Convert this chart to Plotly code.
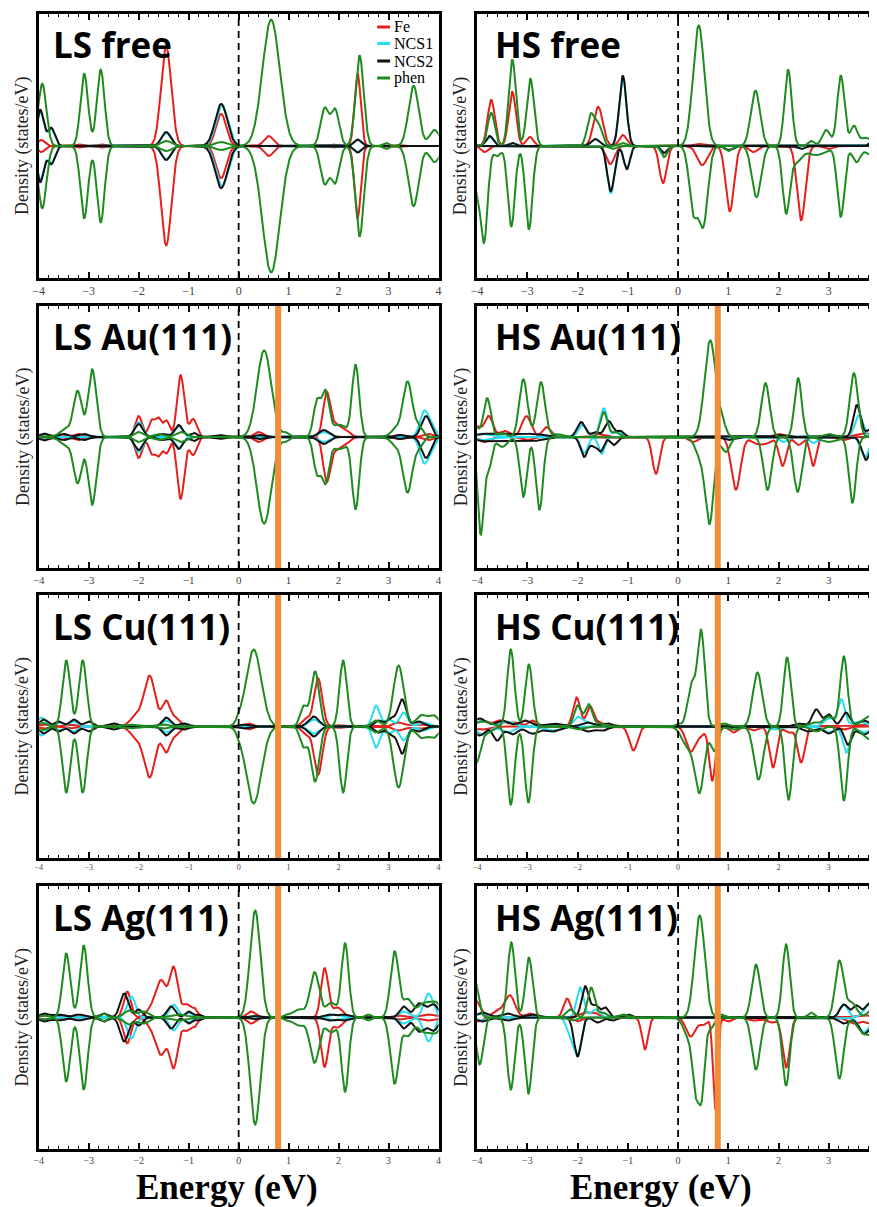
import numpy as np
import plotly.graph_objects as go

# ---------------- data: DOS peaks ----------------
# each entry: (energy eV, height states/eV, half-width eV); LS panels are spin-symmetric
LS_FREE_FE = [(-3.95, 0.6, 0.07), (-3.2, 0.15, 0.06), (-2.75, 0.15, 0.06), (-1.45, 9.9, 0.1),
              (-0.35, 3.2, 0.1), (0.6, 1.0, 0.09), (1.9, 0.15, 0.06), (2.38, 7.2, 0.06), (3.2, 0.1, 0.06)]
LS_FREE_NCS1 = [(-3.97, 3.4, 0.07), (-3.75, 1.7, 0.07), (-1.45, 1.3, 0.09), (-0.33, 4.0, 0.12), (2.38, 0.6, 0.07)]
LS_FREE_NCS2 = [(-3.97, 3.6, 0.07), (-3.75, 1.8, 0.07), (-1.45, 1.4, 0.09), (-0.35, 4.2, 0.12), (2.38, 0.65, 0.07)]
LS_FREE_PHEN = [(-3.93, 6.2, 0.08), (-3.09, 7.2, 0.075), (-2.76, 7.6, 0.075), (-1.45, 0.5, 0.1),
                (-0.35, 0.4, 0.12), (0.65, 12.6, 0.17), (1.72, 3.7, 0.08), (1.93, 3.6, 0.08),
                (2.42, 9.0, 0.08), (2.95, 0.3, 0.06), (3.5, 6.0, 0.1), (3.92, 1.6, 0.1)]

HS_FREE_FE_UP = [(-3.72, 4.6, 0.07), (-3.3, 5.4, 0.07), (-2.95, 0.9, 0.07), (-1.59, 3.9, 0.09),
                 (-1.1, 1.1, 0.07), (0.4, 0.2, 0.1)]
HS_FREE_FE_DN = [(-3.85, -0.6, 0.07), (-1.35, -1.8, 0.08), (-0.3, -3.7, 0.07), (0.48, -1.9, 0.1),
                 (1.03, -6.5, 0.08), (1.5, -0.6, 0.08), (2.45, -7.4, 0.08), (3.0, -0.3, 0.08)]
HS_FREE_NCS1_UP = [(-3.75, 0.9, 0.07), (-3.3, 0.3, 0.07), (-1.65, 0.7, 0.08), (-1.1, 6.8, 0.07), (4.0, 1.4, 0.1)]
HS_FREE_NCS1_DN = [(-1.34, -4.7, 0.07), (-1.02, -2.3, 0.06), (-0.28, -0.7, 0.06), (1.02, -0.4, 0.08)]
HS_FREE_NCS2_UP = [(-3.75, 1.0, 0.07), (-3.3, 0.3, 0.07), (-1.65, 0.7, 0.08), (-1.1, 7.0, 0.07), (4.0, 1.5, 0.1)]
HS_FREE_NCS2_DN = [(-1.34, -4.5, 0.07), (-1.02, -2.3, 0.06), (-0.28, -0.7, 0.06), (1.02, -0.4, 0.08),
                   (2.45, -0.3, 0.08)]
HS_FREE_PHEN_UP = [(-3.72, 3.3, 0.07), (-3.3, 8.6, 0.07), (-2.94, 6.7, 0.07), (-1.74, 3.1, 0.07),
                   (-1.58, 2.0, 0.07), (-1.1, 0.3, 0.07), (0.41, 12.0, 0.11), (1.54, 5.5, 0.09),
                   (2.19, 7.6, 0.07), (2.65, 0.5, 0.06), (2.95, 1.6, 0.08), (3.24, 7.0, 0.07),
                   (3.5, 2.0, 0.07), (3.72, 0.8, 0.08), (3.95, 1.0, 0.08)]
HS_FREE_PHEN_DN = [(-4.02, -3.5, 0.08), (-3.86, -9.1, 0.07), (-3.6, -1.0, 0.07), (-3.32, -8.0, 0.07),
                   (-2.97, -8.3, 0.07), (-1.3, -0.3, 0.07), (-0.28, -1.1, 0.06), (0.3, -6.2, 0.08),
                   (0.5, -7.8, 0.09), (1.0, -0.5, 0.07), (1.56, -5.1, 0.09), (2.15, -6.5, 0.07),
                   (2.35, -1.5, 0.1), (2.75, -0.9, 0.2), (3.24, -7.0, 0.07), (3.55, -1.6, 0.08),
                   (3.85, -1.0, 0.1)]

LS_AU_FE = [(-3.9, 0.3, 0.08), (-3.55, 0.3, 0.08), (-3.2, 0.3, 0.08), (-2.0, 2.1, 0.07),
            (-1.74, 1.6, 0.06), (-1.6, 1.8, 0.06), (-1.44, 1.6, 0.06), (-1.16, 6.2, 0.07),
            (-0.91, 1.8, 0.07), (0.4, 0.5, 0.08), (1.76, 4.3, 0.07), (1.95, 1.2, 0.1),
            (2.15, 0.6, 0.08), (3.2, 0.2, 0.08), (3.8, 0.3, 0.1)]
LS_AU_NCS1 = [(-3.9, 0.3, 0.1), (-2.0, 1.5, 0.08), (-1.2, 1.1, 0.08), (1.7, 0.5, 0.1),
              (3.7, 2.4, 0.08), (3.85, 1.2, 0.08)]
LS_AU_NCS2 = [(-3.9, 0.35, 0.1), (-3.5, 0.3, 0.1), (-3.1, 0.3, 0.1), (-2.0, 1.3, 0.08),
              (-1.55, 0.3, 0.1), (-1.2, 1.2, 0.08), (-0.9, 0.4, 0.07), (-0.4, 0.2, 0.1),
              (0.4, 0.2, 0.08), (1.7, 0.7, 0.1), (3.2, 0.2, 0.08), (3.75, 2.1, 0.09)]
LS_AU_PHEN = [(-3.45, 0.8, 0.12), (-3.22, 4.5, 0.08), (-2.93, 6.8, 0.08), (-2.0, 0.5, 0.08),
              (-1.6, 0.3, 0.1), (-1.15, 0.5, 0.1), (0.51, 8.7, 0.14), (0.95, 0.4, 0.06),
              (1.57, 3.6, 0.07), (1.74, 4.4, 0.07), (1.95, 0.9, 0.1), (2.1, 0.7, 0.1),
              (2.34, 7.2, 0.07), (3.15, 0.8, 0.1), (3.38, 5.5, 0.09), (3.6, 1.0, 0.08)]

HS_AU_FE_UP = [(-4.0, 1.0, 0.08), (-3.77, 2.1, 0.08), (-3.45, 0.6, 0.1), (-3.02, 2.1, 0.09),
               (-2.62, 1.0, 0.08), (-1.6, 0.3, 0.1), (2.0, 0.3, 0.1), (3.7, 0.4, 0.15)]
HS_AU_FE_DN = [(-3.85, -0.5, 0.1), (-3.0, -0.3, 0.1), (-0.44, -3.7, 0.07), (0.3, -0.5, 0.08),
               (1.15, -5.3, 0.09), (1.55, -0.6, 0.1), (1.75, -0.6, 0.1), (2.08, -2.9, 0.07),
               (2.4, -0.8, 0.08), (2.69, -2.9, 0.06), (3.3, -0.3, 0.1)]
HS_AU_NCS1_UP = [(-3.9, 0.3, 0.2), (-1.9, 1.2, 0.08), (-1.48, 2.9, 0.07), (-1.2, 0.6, 0.07), (3.6, 2.2, 0.08)]
HS_AU_NCS1_DN = [(-3.9, -0.3, 0.2), (-1.87, -1.6, 0.07), (-1.52, -1.7, 0.06), (2.1, -0.5, 0.08),
                 (2.7, -0.6, 0.08), (3.72, -2.0, 0.08)]
HS_AU_NCS2_UP = [(-3.9, 0.3, 0.2), (-3.4, 0.3, 0.2), (-2.9, 0.3, 0.2), (-1.93, 1.5, 0.08),
                 (-1.65, 0.5, 0.07), (-1.38, 1.6, 0.08), (-1.15, 0.6, 0.07), (2.0, 0.2, 0.1),
                 (3.0, 0.2, 0.1), (3.56, 3.2, 0.07), (3.85, 0.8, 0.1)]
HS_AU_NCS2_DN = [(-3.9, -0.4, 0.2), (-3.4, -0.4, 0.2), (-2.9, -0.4, 0.2), (-1.87, -2.0, 0.07),
                 (-1.68, -0.8, 0.06), (-1.54, -1.4, 0.06), (-1.28, -0.8, 0.07), (1.0, -0.3, 0.1),
                 (3.74, -2.3, 0.08)]
HS_AU_PHEN_UP = [(-4.05, 1.0, 0.08), (-3.8, 3.9, 0.07), (-3.5, 0.4, 0.08), (-3.08, 5.8, 0.08),
                 (-2.73, 5.5, 0.08), (-2.4, 0.3, 0.1), (-1.48, 2.5, 0.07), (-1.25, 0.5, 0.07),
                 (0.64, 9.7, 0.11), (0.88, 1.2, 0.07), (1.74, 5.4, 0.08), (2.39, 5.9, 0.07),
                 (3.0, 0.3, 0.1), (3.5, 6.4, 0.08)]
HS_AU_PHEN_DN = [(-3.93, -9.7, 0.06), (-3.77, -3.2, 0.06), (-3.5, -1.0, 0.1), (-3.08, -6.0, 0.07),
                 (-2.76, -7.3, 0.07), (0.45, -2.0, 0.1), (0.63, -8.3, 0.08), (0.95, -1.5, 0.08),
                 (1.78, -5.3, 0.08), (2.38, -5.5, 0.08), (3.0, -0.5, 0.15), (3.47, -6.6, 0.07)]

LS_CU_FE = [(-3.9, 0.2, 0.1), (-3.4, 0.2, 0.1), (-2.05, 1.0, 0.12), (-1.78, 5.0, 0.11),
            (-1.45, 2.5, 0.08), (-1.25, 0.8, 0.08), (0.2, 0.3, 0.08), (1.35, 0.8, 0.08),
            (1.59, 4.8, 0.08), (2.0, 0.15, 0.08), (3.2, 0.4, 0.1), (3.6, 0.2, 0.15)]
LS_CU_NCS1 = [(-3.95, 0.9, 0.08), (-3.6, 0.4, 0.08), (-3.3, 0.5, 0.08), (-1.45, 0.6, 0.08),
              (1.5, 0.7, 0.1), (2.75, 2.1, 0.07), (3.0, 0.7, 0.08), (3.3, 1.4, 0.08), (3.7, 0.4, 0.1)]
LS_CU_NCS2 = [(-3.9, 0.7, 0.08), (-3.6, 0.5, 0.08), (-3.3, 0.7, 0.08), (-3.0, 0.5, 0.08),
              (-2.5, 0.3, 0.1), (-1.45, 0.9, 0.08), (-1.1, 0.3, 0.1), (0.1, 0.2, 0.1),
              (1.5, 1.0, 0.1), (2.8, 0.6, 0.08), (3.05, 0.8, 0.08), (3.27, 2.7, 0.08), (3.6, 0.5, 0.1)]
LS_CU_PHEN = [(-3.95, 0.4, 0.1), (-3.45, 6.6, 0.075), (-3.12, 6.6, 0.075), (-2.2, 0.2, 0.15),
              (-1.5, 0.2, 0.1), (0.0, 0.3, 0.05), (0.3, 7.7, 0.15), (1.3, 2.0, 0.07),
              (1.53, 5.5, 0.08), (2.09, 6.6, 0.07), (2.75, 0.6, 0.08), (3.2, 6.1, 0.1),
              (3.65, 1.1, 0.1), (3.9, 1.1, 0.1)]

HS_CU_FE_UP = [(-3.9, 0.6, 0.12), (-3.55, 0.6, 0.1), (-3.25, 0.4, 0.1), (-2.9, 0.6, 0.08),
               (-2.02, 2.9, 0.07), (-1.75, 2.0, 0.07), (-1.55, 0.4, 0.08), (3.7, 0.2, 0.15)]
HS_CU_FE_DN = [(-3.9, -0.3, 0.15), (-0.89, -2.4, 0.08), (0.25, -2.5, 0.09), (0.45, -0.8, 0.08),
               (0.68, -5.4, 0.06), (1.1, -0.6, 0.08), (1.5, -0.4, 0.1), (1.89, -4.1, 0.07),
               (2.2, -0.6, 0.08), (2.45, -3.6, 0.07), (3.3, -0.3, 0.1)]
HS_CU_NCS1_UP = [(-3.9, 0.6, 0.12), (-3.4, 0.5, 0.12), (-2.0, 0.9, 0.08), (-1.8, 0.4, 0.1),
                 (3.0, 0.8, 0.1), (3.25, 2.7, 0.07), (3.6, 0.5, 0.12)]
HS_CU_NCS1_DN = [(-3.9, -0.8, 0.12), (-3.4, -0.6, 0.12), (-2.5, -0.4, 0.15), (1.9, -0.3, 0.1),
                 (3.0, -0.6, 0.1), (3.35, -2.6, 0.07), (3.7, -0.6, 0.12)]
HS_CU_NCS2_UP = [(-3.95, 0.8, 0.12), (-3.5, 0.6, 0.12), (-3.05, 0.6, 0.12), (-2.5, 0.3, 0.15),
                 (-1.8, 0.4, 0.12), (-1.4, 0.3, 0.1), (2.4, 0.3, 0.1), (2.75, 1.7, 0.08),
                 (3.0, 1.2, 0.08), (3.34, 1.4, 0.08), (3.7, 0.6, 0.1)]
HS_CU_NCS2_DN = [(-3.95, -0.9, 0.1), (-3.6, -1.4, 0.08), (-3.3, -0.8, 0.1), (-2.9, -0.7, 0.12),
                 (-2.5, -0.5, 0.15), (-1.8, -0.5, 0.12), (-1.5, -0.4, 0.1), (2.6, -0.5, 0.12),
                 (3.0, -0.7, 0.1), (3.38, -1.8, 0.07), (3.7, -0.8, 0.12)]
HS_CU_PHEN_UP = [(-3.9, 0.5, 0.15), (-3.33, 7.7, 0.07), (-2.97, 6.2, 0.07), (-2.0, 2.1, 0.07),
                 (-1.78, 2.2, 0.07), (-1.55, 0.3, 0.1), (0.0, 0.3, 0.05), (0.27, 4.2, 0.08),
                 (0.46, 9.4, 0.07), (0.9, 0.3, 0.1), (1.58, 5.4, 0.09), (2.17, 6.9, 0.07),
                 (2.7, 0.4, 0.1), (3.0, 1.0, 0.1), (3.3, 7.0, 0.07), (3.75, 0.8, 0.12), (3.95, 0.8, 0.1)]
HS_CU_PHEN_DN = [(-4.02, -3.6, 0.08), (-3.8, -0.6, 0.1), (-3.33, -7.8, 0.07), (-2.98, -7.6, 0.07),
                 (-2.0, -0.3, 0.1), (0.2, -2.0, 0.12), (0.43, -6.3, 0.09), (0.72, -2.4, 0.07),
                 (1.1, -0.3, 0.1), (1.6, -5.3, 0.09), (2.2, -7.3, 0.07), (2.75, -0.5, 0.1),
                 (3.3, -7.4, 0.07), (3.75, -1.0, 0.12), (3.95, -1.0, 0.1)]

LS_AG_FE = [(-3.9, 0.2, 0.1), (-3.5, 0.2, 0.1), (-2.23, 2.6, 0.07), (-1.75, 0.8, 0.1),
            (-1.55, 3.6, 0.1), (-1.3, 4.9, 0.08), (-1.05, 1.3, 0.08), (-0.88, 0.8, 0.06),
            (0.25, 0.6, 0.08), (1.72, 4.9, 0.07), (1.98, 1.0, 0.1), (3.2, 0.2, 0.1), (3.8, 0.3, 0.15)]
LS_AG_NCS1 = [(-3.9, 0.3, 0.1), (-2.15, 2.1, 0.08), (-1.3, 1.3, 0.08), (-1.0, 0.5, 0.07),
              (1.9, 0.3, 0.1), (3.3, 0.6, 0.1), (3.8, 2.4, 0.09)]
LS_AG_NCS2 = [(-3.9, 0.4, 0.1), (-3.6, 0.3, 0.1), (-3.2, 0.3, 0.1), (-2.7, 0.4, 0.08),
              (-2.29, 2.4, 0.08), (-2.0, 0.8, 0.07), (-1.35, 1.1, 0.08), (-1.0, 0.6, 0.07),
              (-0.8, 0.3, 0.06), (0.3, 0.15, 0.08), (1.8, 0.3, 0.1), (2.1, 0.3, 0.1),
              (3.3, 1.1, 0.08), (3.62, 1.4, 0.1), (3.9, 1.3, 0.1)]
LS_AG_PHEN = [(-3.9, 0.2, 0.1), (-3.45, 6.4, 0.075), (-3.1, 7.2, 0.075), (-2.7, 0.4, 0.06),
              (-2.2, 0.7, 0.1), (-1.9, 0.6, 0.1), (-1.2, 0.3, 0.15), (0.33, 10.7, 0.1),
              (0.95, 0.2, 0.05), (1.2, 0.8, 0.12), (1.52, 4.5, 0.09), (1.85, 1.5, 0.1),
              (2.13, 7.4, 0.07), (2.6, 0.3, 0.06), (3.12, 6.6, 0.08), (3.38, 1.8, 0.09),
              (3.7, 1.4, 0.12), (3.95, 1.4, 0.1)]

HS_AG_FE_UP = [(-4.05, 1.8, 0.1), (-3.6, 0.6, 0.1), (-3.35, 2.2, 0.1), (-2.95, 0.4, 0.08),
               (-2.21, 1.9, 0.07), (-1.85, 0.5, 0.1), (-1.65, 0.4, 0.08), (3.7, 0.2, 0.2)]
HS_AG_FE_DN = [(-4.0, -0.4, 0.1), (-2.0, -0.4, 0.08), (-0.66, -3.2, 0.06), (0.25, -1.9, 0.09),
               (0.5, -0.7, 0.08), (0.74, -9.2, 0.045), (1.0, -0.4, 0.08), (1.5, -0.3, 0.1),
               (1.85, -0.5, 0.1), (2.15, -5.0, 0.07), (3.5, -0.6, 0.12), (3.85, -0.6, 0.12)]
HS_AG_NCS1_UP = [(-3.9, 0.4, 0.12), (-1.95, 3.0, 0.07), (-1.65, 0.8, 0.08), (3.3, 1.3, 0.08), (3.8, 1.3, 0.1)]
HS_AG_NCS1_DN = [(-3.9, -0.3, 0.12), (-2.15, -1.6, 0.07), (-2.0, -3.6, 0.07), (3.7, -1.5, 0.1)]
HS_AG_NCS2_UP = [(-3.9, 0.5, 0.12), (-3.4, 0.4, 0.12), (-2.9, 0.3, 0.12), (-1.85, 3.1, 0.07),
                 (-1.65, 1.2, 0.07), (-1.45, 1.0, 0.07), (-1.0, 0.3, 0.08), (3.3, 1.3, 0.08),
                 (3.55, 1.2, 0.08), (3.8, 1.4, 0.08)]
HS_AG_NCS2_DN = [(-3.9, -0.4, 0.12), (-3.4, -0.3, 0.12), (-2.0, -3.9, 0.07), (-1.6, -0.5, 0.08),
                 (-1.3, -0.3, 0.08), (3.3, -0.6, 0.1), (3.7, -1.6, 0.1), (3.95, -0.8, 0.1)]
HS_AG_PHEN_UP = [(-4.05, 3.8, 0.07), (-3.32, 7.5, 0.07), (-2.97, 6.0, 0.07), (-2.15, 0.8, 0.08),
                 (-1.73, 3.0, 0.07), (-1.5, 0.5, 0.07), (-1.1, 0.3, 0.1), (0.43, 10.2, 0.1),
                 (0.85, 0.3, 0.06), (1.55, 5.3, 0.08), (2.15, 7.3, 0.07), (2.65, 0.5, 0.06),
                 (3.21, 5.6, 0.08), (3.45, 1.5, 0.1), (3.9, 1.0, 0.1)]
HS_AG_PHEN_DN = [(-3.95, -4.7, 0.07), (-3.33, -7.2, 0.07), (-2.98, -7.6, 0.07), (-2.1, -0.3, 0.08),
                 (0.22, -2.0, 0.1), (0.35, -6.0, 0.06), (0.47, -7.4, 0.06), (0.65, -1.1, 0.06),
                 (1.55, -5.2, 0.08), (2.15, -6.8, 0.07), (3.21, -6.1, 0.08), (3.7, -1.6, 0.12),
                 (3.95, -1.6, 0.1)]

PANEL_TITLES = ["LS free", "HS free", "LS Au(111)", "HS Au(111)",
                "LS Cu(111)", "HS Cu(111)", "LS Ag(111)", "HS Ag(111)"]
SPECIES = ["Fe", "NCS1", "NCS2", "phen"]
X_TICKS = [-4, -3, -2, -1, 0, 1, 2, 3, 4]
FERMI = 0.0
ORANGE_E = 0.79

def sym(p):
    return p, [(e, -h, w) for e, h, w in p]

PANELS = [
    {"Fe": sym(LS_FREE_FE), "NCS1": sym(LS_FREE_NCS1), "NCS2": sym(LS_FREE_NCS2), "phen": sym(LS_FREE_PHEN)},
    {"Fe": (HS_FREE_FE_UP, HS_FREE_FE_DN), "NCS1": (HS_FREE_NCS1_UP, HS_FREE_NCS1_DN),
     "NCS2": (HS_FREE_NCS2_UP, HS_FREE_NCS2_DN), "phen": (HS_FREE_PHEN_UP, HS_FREE_PHEN_DN)},
    {"Fe": sym(LS_AU_FE), "NCS1": sym(LS_AU_NCS1), "NCS2": sym(LS_AU_NCS2), "phen": sym(LS_AU_PHEN)},
    {"Fe": (HS_AU_FE_UP, HS_AU_FE_DN), "NCS1": (HS_AU_NCS1_UP, HS_AU_NCS1_DN),
     "NCS2": (HS_AU_NCS2_UP, HS_AU_NCS2_DN), "phen": (HS_AU_PHEN_UP, HS_AU_PHEN_DN)},
    {"Fe": sym(LS_CU_FE), "NCS1": sym(LS_CU_NCS1), "NCS2": sym(LS_CU_NCS2), "phen": sym(LS_CU_PHEN)},
    {"Fe": (HS_CU_FE_UP, HS_CU_FE_DN), "NCS1": (HS_CU_NCS1_UP, HS_CU_NCS1_DN),
     "NCS2": (HS_CU_NCS2_UP, HS_CU_NCS2_DN), "phen": (HS_CU_PHEN_UP, HS_CU_PHEN_DN)},
    {"Fe": sym(LS_AG_FE), "NCS1": sym(LS_AG_NCS1), "NCS2": sym(LS_AG_NCS2), "phen": sym(LS_AG_PHEN)},
    {"Fe": (HS_AG_FE_UP, HS_AG_FE_DN), "NCS1": (HS_AG_NCS1_UP, HS_AG_NCS1_DN),
     "NCS2": (HS_AG_NCS2_UP, HS_AG_NCS2_DN), "phen": (HS_AG_PHEN_UP, HS_AG_PHEN_DN)},
]

# ---------------- styling / layout ----------------
PAGE_OFF = 8                      # default page margin around the plot div
W, H = 877 - PAGE_OFF, 1207 - PAGE_OFF
COLORS = {"Fe": "#E3201B", "NCS1": "#27DDF2", "NCS2": "#111111", "phen": "#1F8A1F"}
ORANGE = "#F28C38"
SERIF = "Liberation Serif, Times New Roman, serif"

COL_PX = [(33, 437), (476, 877)]          # page pixels
ROW_PX = [(14, 278), (306, 568), (595, 858), (886, 1149)]
XRANGES = [[-4, 4], [-4, 3.9]]
YLIM = 13.15
TICKFONT = [12, 11, 8, 10]
BROADEN = 1.2

def px(xp):
    return (xp - PAGE_OFF) / W

def py(yp):
    return 1 - (yp - PAGE_OFF) / H

grid = np.linspace(-4.2, 4.2, 1681)

def broaden(peaks):
    y = np.zeros_like(grid)
    for e, h, w in peaks:
        y += h * np.exp(-np.log(2) * ((grid - e) / (w * BROADEN)) ** 2)
    return y

fig = go.Figure()
shapes, annotations = [], []
layout = {}
for i, panel in enumerate(PANELS):
    r, c = divmod(i, 2)
    n = i + 1
    xa = "x" if n == 1 else f"x{n}"
    ya = "y" if n == 1 else f"y{n}"
    for sp in SPECIES:
        up, dn = panel[sp]
        for peaks in (up, dn):
            fig.add_trace(go.Scatter(x=grid, y=broaden(peaks), mode="lines",
                                     line=dict(color=COLORS[sp], width=2),
                                     xaxis=xa, yaxis=ya, showlegend=False, hoverinfo="skip"))
    x0, x1 = COL_PX[c]
    t0, t1 = ROW_PX[r]
    layout[f"xaxis{n}"] = dict(
        domain=[px(x0), min(px(x1), 1.0)], range=XRANGES[c], anchor=ya,
        tickvals=X_TICKS, ticks="inside", ticklen=6, tickwidth=1.5, tickcolor="black",
        minor=dict(dtick=0.2, ticks="inside", ticklen=3, tickwidth=1, tickcolor="black"),
        showline=True, linewidth=2.5, linecolor="black", mirror="ticks",
        showgrid=False, zeroline=False,
        tickfont=dict(family=SERIF, size=TICKFONT[r], color="#444"))
    layout[f"yaxis{n}"] = dict(
        domain=[py(t1), py(t0)], range=[-YLIM, YLIM], anchor=xa,
        showticklabels=False, ticks="", showgrid=False, zeroline=False,
        showline=True, linewidth=2.5, linecolor="black", mirror=(c == 0))
    shapes.append(dict(type="line", xref=xa, yref=f"{ya} domain", x0=FERMI, x1=FERMI, y0=0, y1=1,
                       line=dict(color="black", width=1.8, dash="7px,5px"), layer="above"))
    if r > 0:
        shapes.append(dict(type="line", xref=xa, yref=f"{ya} domain", x0=ORANGE_E, x1=ORANGE_E,
                           y0=0, y1=1, line=dict(color=ORANGE, width=6), layer="above"))
    annotations.append(dict(text=f"<b>{PANEL_TITLES[i]}</b>", xref="paper", yref="paper",
                            x=px(x0 + (12 if c == 0 else 16)), y=py(t0 + 31),
                            xanchor="left", yanchor="middle", showarrow=False,
                            font=dict(family="Open Sans, sans-serif", size=35, color="black")))
    annotations.append(dict(text="Density (states/eV)", xref="paper", yref="paper",
                            x=px(x0 - 16), y=py((t0 + t1) / 2), textangle=-90,
                            xanchor="center", yanchor="middle", showarrow=False,
                            font=dict(family=SERIF, size=18, color="#222")))

LEG_Y = [27, 43.5, 61, 78]
for sp, yy in zip(SPECIES, LEG_Y):
    shapes.append(dict(type="line", xref="paper", yref="paper", x0=px(375), x1=px(388),
                       y0=py(yy), y1=py(yy), line=dict(color=COLORS[sp], width=3)))
    annotations.append(dict(text=sp, xref="paper", yref="paper", x=px(390), y=py(yy),
                            xanchor="left", yanchor="middle", showarrow=False,
                            font=dict(family=SERIF, size=16, color="black")))

for cx in (223, 662):
    annotations.append(dict(text="<b>Energy (eV)</b>", xref="paper", yref="paper",
                            x=px(cx), y=py(1187), xanchor="center", yanchor="middle",
                            showarrow=False, font=dict(family=SERIF, size=35, color="black")))

fig.update_layout(width=W, height=H, margin=dict(l=0, r=0, t=0, b=0),
                  paper_bgcolor="white", plot_bgcolor="white",
                  shapes=shapes, annotations=annotations, showlegend=False, **layout)
fig.write_html("out.html")
